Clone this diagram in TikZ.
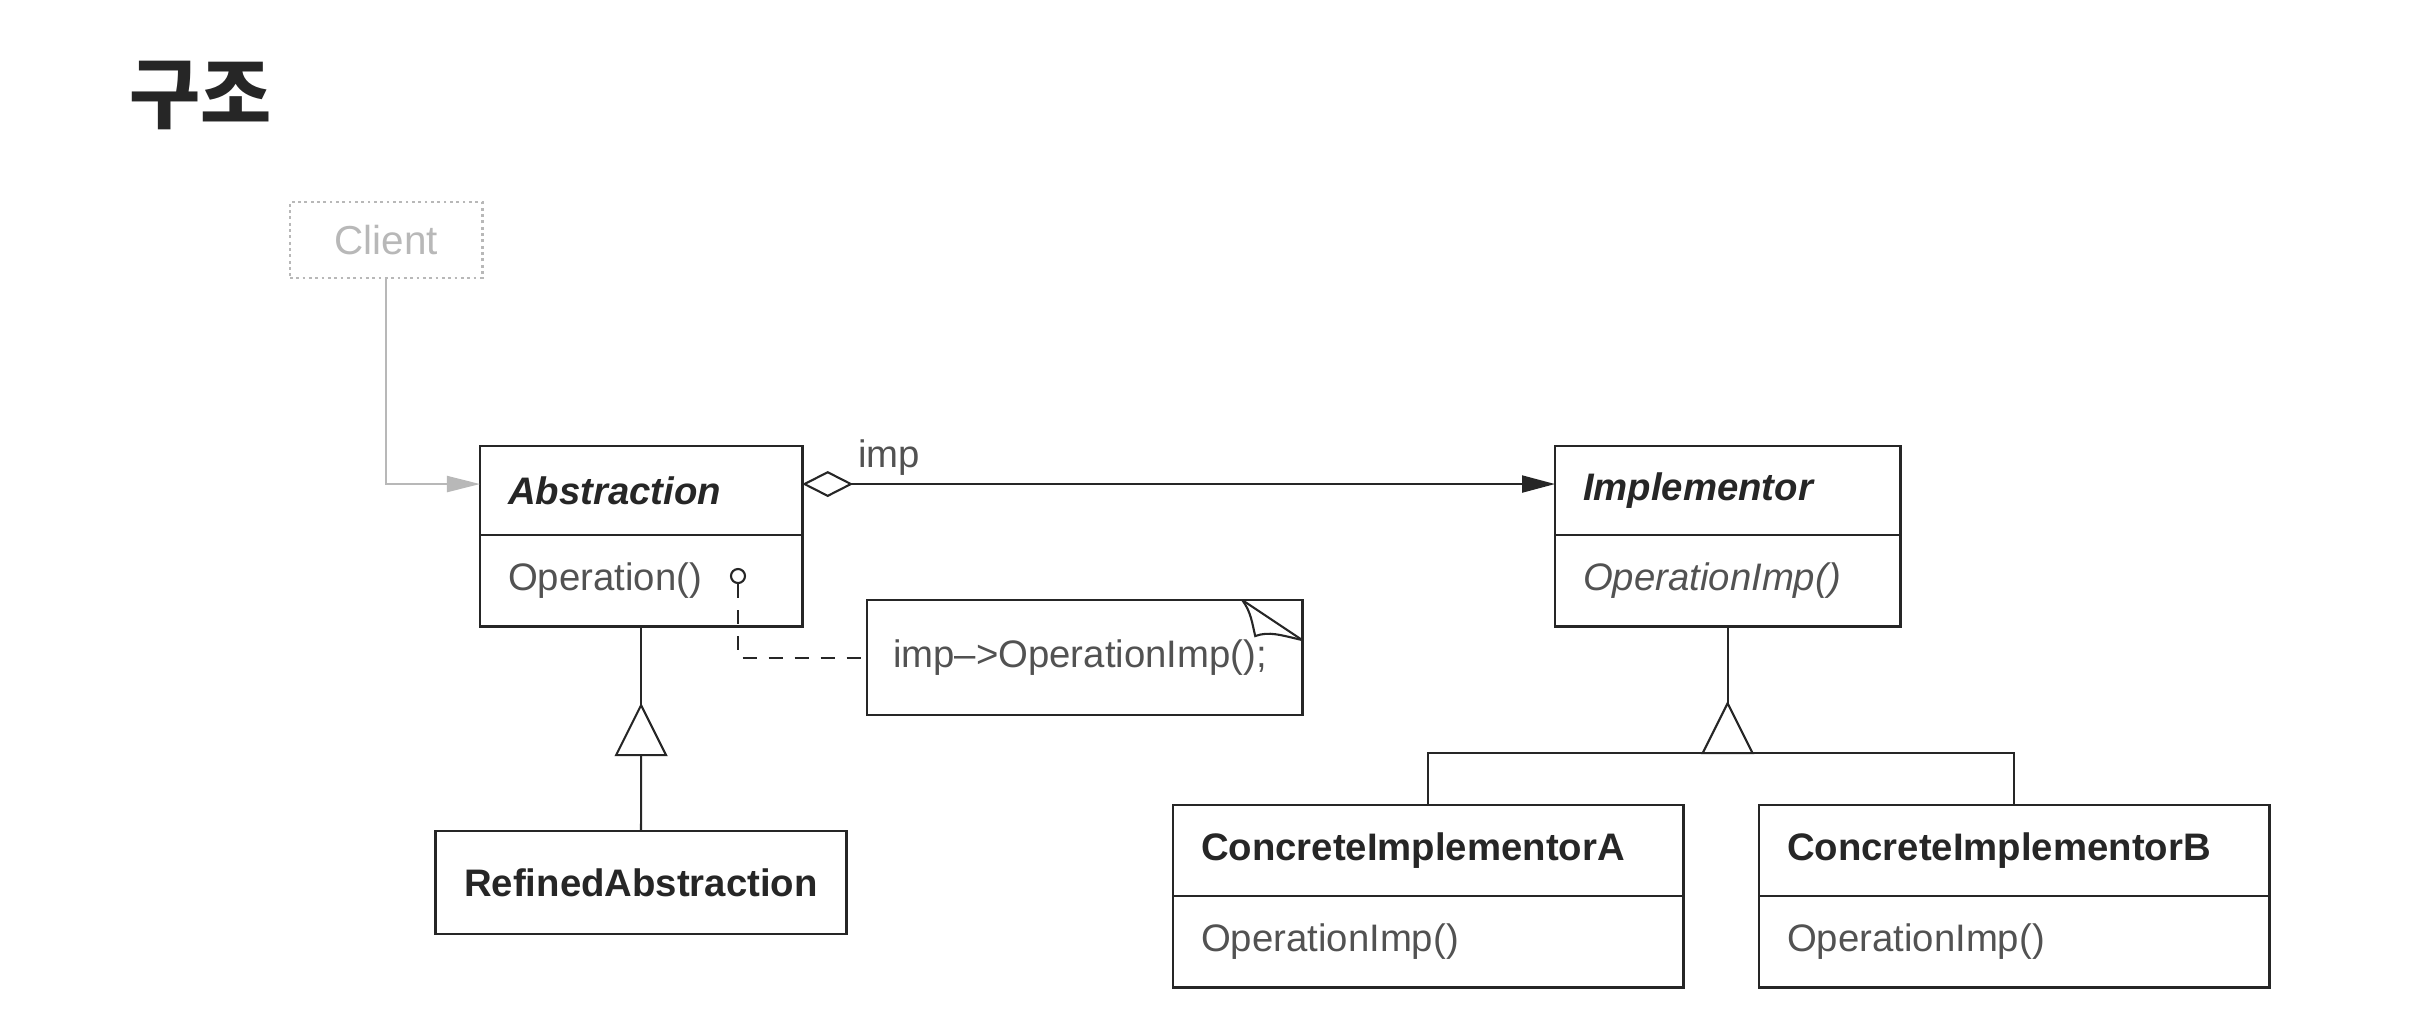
\documentclass[tikz,border=0pt]{standalone}
\usepackage{fontspec}
\setmainfont{Liberation Sans}
\newfontfamily\cjk{Noto Sans CJK KR}
\usepackage{tikz}
\usetikzlibrary{arrows.meta,positioning}
\definecolor{ink}{gray}{0.15}
\definecolor{faint}{gray}{0.72}

\begin{document}
\begin{tikzpicture}[x=0.01cm,y=-0.01cm,color=ink,font=\fontsize{10.9}{13}\selectfont,
    cls/.style={draw,line width=0.8pt,anchor=north west,inner xsep=0.28cm,inner ysep=0pt,outer sep=0pt,align=left},
    ops/.style={cls,text=ink!80},
    link/.style={line width=0.6pt},
    inherit/.style={link,line join=miter}]

    \useasboundingbox (0,0) rectangle (2416,1020);

    \node[anchor=west,inner sep=0,font={\fontsize{22}{26}\selectfont\cjk\bfseries}] (title) at (129,95) {구조};

    \node[cls,faint,densely dotted,align=center,minimum width=1.92cm,minimum height=0.76cm,font=\fontsize{11.5}{13}\selectfont] (client) at (290,202) {Client};

    \node[cls,text width=2.66cm,minimum height=0.89cm] (absname) at (480,446) {\textbf{\textit{Abstraction}}};
    \node[ops,text width=2.66cm,minimum height=0.91cm] (absop) at (absname.south west) {Operation()};
    \node[circle,draw,line width=0.6pt,inner sep=0,minimum size=0.14cm] (opdot) at (738,576) {};
    \draw[link,faint,-{Triangle[length=0.33cm,width=0.16cm]}] (client.south) |- ([yshift=0.065cm]absname.west);

    \node[cls,text width=2.89cm,minimum height=0.89cm] (implname) at (1555,446) {\textbf{\textit{Implementor}}};
    \node[ops,text width=2.89cm,minimum height=0.91cm] (implop) at (implname.south west) {\textit{OperationImp()}};
    \draw[link,{Diamond[open,length=0.51cm,width=0.26cm]}-{Triangle[length=0.33cm,width=0.17cm]}] ([yshift=0.065cm]absname.east) to node[pos=0,anchor=base west,xshift=0.55cm,yshift=0.17cm,inner sep=0,text=ink!80] {imp} ([yshift=0.065cm]implname.west);

    \node[cls,text width=3.83cm,inner xsep=0.26cm,minimum height=1.15cm,text=ink!80] (note) at (867,600) {imp–>OperationImp();};
    \draw[link] ([xshift=-0.6cm]note.north east) to ([yshift=-0.4cm]note.north east);
    \draw[link] ([xshift=-0.6cm]note.north east) .. controls +(9,12) and +(-3,-12) .. ([xshift=-0.47cm,yshift=-0.36cm]note.north east) .. controls +(14,-5) and +(-22,-5) .. ([yshift=-0.4cm]note.north east);
    \draw[link,dash pattern=on 0.14cm off 0.12cm] (opdot) |- (note.west);

    \node[cls,anchor=north,align=center,minimum width=4.10cm,minimum height=1.03cm] (refined) at (641,831) {\textbf{RefinedAbstraction}};
    \coordinate[below=0.79cm of absop] (abstip);
    \draw[link] (absop) to (abstip);
    \draw[inherit] (abstip) -- ++(-25,50) -- ++(50,0) -- cycle;
    \draw[link] ([yshift=-0.5cm]abstip) to (refined);

    \node[cls,text width=4.54cm,minimum height=0.91cm] (concAname) at (1173,805) {\textbf{ConcreteImplementorA}};
    \node[ops,text width=4.54cm,minimum height=0.91cm] (concAop) at (concAname.south west) {OperationImp()};

    \node[cls,text width=4.54cm,minimum height=0.91cm] (concBname) at (1759,805) {\textbf{ConcreteImplementorB}};
    \node[ops,text width=4.54cm,minimum height=0.91cm] (concBop) at (concBname.south west) {OperationImp()};

    \coordinate[below=0.77cm of implop] (impltip);
    \draw[link] (implop) to (impltip);
    \draw[inherit] (impltip) -- ++(-25,50) -- ++(50,0) -- cycle;
    \draw[link] (concAname.north) |- ([yshift=-0.5cm]impltip) -| (concBname.north);

\end{tikzpicture}
\end{document}
